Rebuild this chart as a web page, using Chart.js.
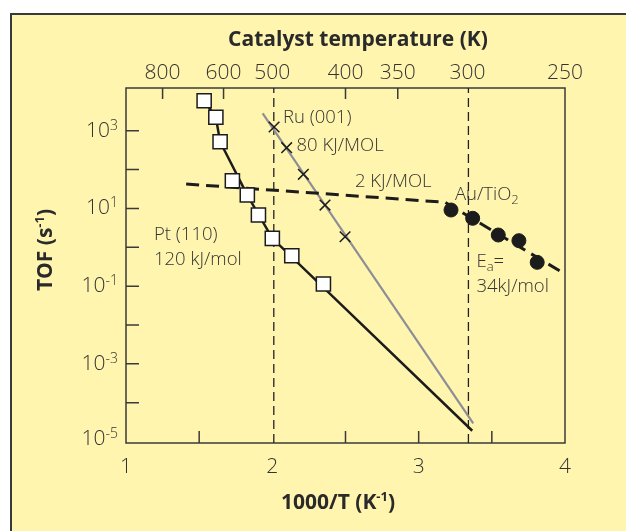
<!DOCTYPE html>
<html><head><meta charset="utf-8">
<script src="https://cdn.jsdelivr.net/npm/chart.js@4.4.1/dist/chart.umd.min.js"></script>
<style>
html,body{margin:0;padding:0;background:#fff;overflow:hidden;width:626px;height:531px;}
#card{position:absolute;left:10px;top:13px;width:700px;height:600px;background:#FFF5AF;border-left:2px solid #3a3a3a;border-top:2px solid #3a3a3a;}
#wrap{position:absolute;left:0;top:0;width:626px;height:531px;}
</style></head><body>
<div id="card"></div>
<div id="wrap"><canvas id="c" width="626" height="531"></canvas></div>
<script>
// ---- data ----
// Pt(110) squares
const ptX = [1.534, 1.614, 1.643, 1.727, 1.829, 1.905, 2.000, 2.133, 2.349];
const ptY = [5915, 2213, 521, 51.6, 22.1, 6.78, 1.70, 0.607, 0.1135];
// Pt fit line
const ptLineX = [1.534, 1.614, 1.643, 1.829, 2.000, 3.366];
const ptLineY = [5915, 2213, 521, 22.1, 1.70, 1.9e-5];
// Ru(001) crosses
const ruX = [2.012, 2.098, 2.212, 2.360, 2.497];
const ruY = [1245, 366, 75.5, 12.2, 1.87];
// Ru fit line
const ruLineX = [1.934, 3.373];
const ruLineY = [2806, 2.95e-5];
// Au/TiO2 circles
const auX = [3.221, 3.369, 3.544, 3.685, 3.810];
const auY = [9.10, 5.57, 2.07, 1.48, 0.410];
// Au dashed fit line
const auLineX = [1.411, 3.180, 4.0];
const auLineY = [42.5, 14.4, 0.205];
// vertical reference lines (500 K and 300 K)
const refLineX = [2.01, 3.34];
// axes
const xMin = 1, xMax = 4;
const yMin = 9.2e-6, yMax = 12560;
const bottomLabels = [1, 2, 3, 4];
const bottomMinorTicks = [1.5, 2.5, 3, 3.5];
const topTemps = [800, 600, 500, 400, 350, 300, 250];
const topMinorTemps = [800, 600, 400, 350];
const yLabelExps = [3, 1, -1, -3, -5];
const yTickExps = [3, 2, 1, 0, -1, -2, -3, -4];

const FONT = "'Open Sans', 'Noto Sans', sans-serif";
const TXT = '#333333';
const INK = '#1c1c1c';

function pts(xs, ys) { return xs.map((v, i) => ({x: v, y: ys[i]})); }

function rich(ctx, parts, x, y, align) {
  let total = 0;
  parts.forEach(p => { ctx.font = (p.w || '300') + ' ' + p.s + 'px ' + FONT; p.width = ctx.measureText(p.t).width; total += p.width; });
  let cx = align === 'right' ? x - total : (align === 'center' ? x - total / 2 : x);
  ctx.textBaseline = 'alphabetic';
  ctx.textAlign = 'left';
  parts.forEach(p => { ctx.font = (p.w || '300') + ' ' + p.s + 'px ' + FONT; ctx.fillText(p.t, cx, y + (p.dy || 0)); cx += p.width; });
}

const deco = {
  id: 'deco',
  beforeDatasetsDraw(chart) {
    const {ctx, chartArea: a, scales: {x, y}} = chart;
    ctx.save();
    ctx.strokeStyle = '#3a3a3a';
    ctx.lineWidth = 1.5;
    ctx.beginPath();
    bottomMinorTicks.forEach(v => { const px = x.getPixelForValue(v); ctx.moveTo(px, a.bottom); ctx.lineTo(px, a.bottom - 12); });
    topMinorTemps.forEach(t => { const px = x.getPixelForValue(1000 / t); ctx.moveTo(px, a.top); ctx.lineTo(px, a.top + 11); });
    yTickExps.forEach(e => { const py = y.getPixelForValue(Math.pow(10, e)); ctx.moveTo(a.left, py); ctx.lineTo(a.left + 13, py); });
    ctx.stroke();
    ctx.strokeRect(a.left, a.top, a.right - a.left, a.bottom - a.top);
    ctx.restore();
  },
  afterDraw(chart) {
    const {ctx, scales: {y}} = chart;
    ctx.save();
    ctx.fillStyle = TXT;
    // y tick labels with superscript exponents
    yLabelExps.forEach(e => {
      let py = y.getPixelForValue(Math.pow(10, e));
      if (e === -5) py -= 3;
      rich(ctx, [{t: '10', s: 21}, {t: String(e), s: 14, dy: -7}], 118, py + 6, 'right');
    });
    // axis titles
    ctx.fillStyle = '#2a2a2a';
    rich(ctx, [{t: 'Catalyst temperature (K)', s: 21, w: 'bold'}], 358, 46, 'center');
    rich(ctx, [{t: '1000/T (K', s: 21, w: 'bold'}, {t: '-1', s: 13, w: 'bold', dy: -8}, {t: ')', s: 21, w: 'bold'}], 338, 509, 'center');
    ctx.save();
    ctx.translate(51.5, 250);
    ctx.rotate(-Math.PI / 2);
    rich(ctx, [{t: 'TOF (s', s: 21, w: 'bold'}, {t: '-1', s: 13, w: 'bold', dy: -8}, {t: ')', s: 21, w: 'bold'}], 0, 0, 'center');
    ctx.restore();
    // annotations
    ctx.fillStyle = TXT;
    const S = 18.5;
    rich(ctx, [{t: 'Ru (001)', s: S}], 283, 122.5, 'left');
    rich(ctx, [{t: '80 KJ/MOL', s: S}], 296.5, 151, 'left');
    rich(ctx, [{t: '2 KJ/MOL', s: S}], 355, 187, 'left');
    rich(ctx, [{t: 'Au/TiO', s: S}, {t: '2', s: 13, dy: 4}], 455, 200, 'left');
    rich(ctx, [{t: 'E', s: S}, {t: 'a', s: 13, dy: 4}, {t: '=', s: S}], 476.5, 266.5, 'left');
    rich(ctx, [{t: '34kJ/mol', s: S}], 476.5, 291.5, 'left');
    rich(ctx, [{t: 'Pt (110)', s: S}], 154, 240, 'left');
    rich(ctx, [{t: '120 kJ/mol', s: S}], 154, 264.5, 'left');
    ctx.restore();
  }
};

const datasets = [
  {label: 'Pt(110)', data: pts(ptX, ptY), showLine: false, pointStyle: 'rect', pointRadius: 10, backgroundColor: '#ffffff', borderColor: INK, borderWidth: 1.5, order: 0},
  {label: 'Ru(001)', data: pts(ruX, ruY), showLine: false, pointStyle: 'crossRot', pointRadius: 7.5, borderColor: INK, borderWidth: 1.5, order: 0},
  {label: 'Au/TiO2', data: pts(auX, auY), showLine: false, pointStyle: 'circle', pointRadius: 7, backgroundColor: INK, borderColor: INK, borderWidth: 1, order: 0},
  {label: 'Pt fit', data: pts(ptLineX, ptLineY), showLine: true, pointRadius: 0, borderColor: INK, borderWidth: 2.5, order: 2},
  {label: 'Ru fit', data: pts(ruLineX, ruLineY), showLine: true, pointRadius: 0, borderColor: '#8e8e96', borderWidth: 2.2, order: 2},
  {label: 'Au fit', data: pts(auLineX, auLineY), showLine: true, pointRadius: 0, borderColor: INK, borderWidth: 3, borderDash: [13, 7], order: 1},
].concat(refLineX.map(v => ({label: 'ref', data: [{x: v, y: yMin}, {x: v, y: yMax}], showLine: true, pointRadius: 0, borderColor: '#222', borderWidth: 1.3, borderDash: [9, 5], order: 3})));

new Chart(document.getElementById('c'), {
  type: 'scatter',
  data: {datasets},
  plugins: [deco],
  options: {
    responsive: false,
    animation: false,
    events: [],
    layout: {padding: {left: 0, top: 0, right: 61, bottom: 0}},
    plugins: {legend: {display: false}, tooltip: {enabled: false}},
    elements: {line: {tension: 0}},
    scales: {
      x: {
        type: 'linear', position: 'bottom', min: xMin, max: xMax,
        afterFit(s) { s.height = 88; },
        afterBuildTicks(s) { s.ticks = bottomLabels.map(v => ({value: v})); },
        grid: {display: false}, border: {display: false},
        ticks: {autoSkip: false, maxRotation: 0, padding: 3, color: TXT, font: {family: FONT, size: 21, weight: '300'}, callback: (v) => String(v)}
      },
      x2: {
        type: 'linear', position: 'top', min: xMin, max: xMax,
        afterFit(s) { s.height = 88; },
        afterBuildTicks(s) { s.ticks = topTemps.map(t => ({value: 1000 / t})); },
        grid: {display: false}, border: {display: false},
        ticks: {autoSkip: false, maxRotation: 0, padding: -6, color: TXT, font: {family: FONT, size: 21, weight: '300'}, callback: (v, i) => String(topTemps[i])}
      },
      y: {
        type: 'logarithmic', position: 'left', min: yMin, max: yMax,
        afterFit(s) { s.width = 126; },
        grid: {display: false}, border: {display: false},
        ticks: {display: false}
      }
    }
  }
});
</script>
</body></html>
